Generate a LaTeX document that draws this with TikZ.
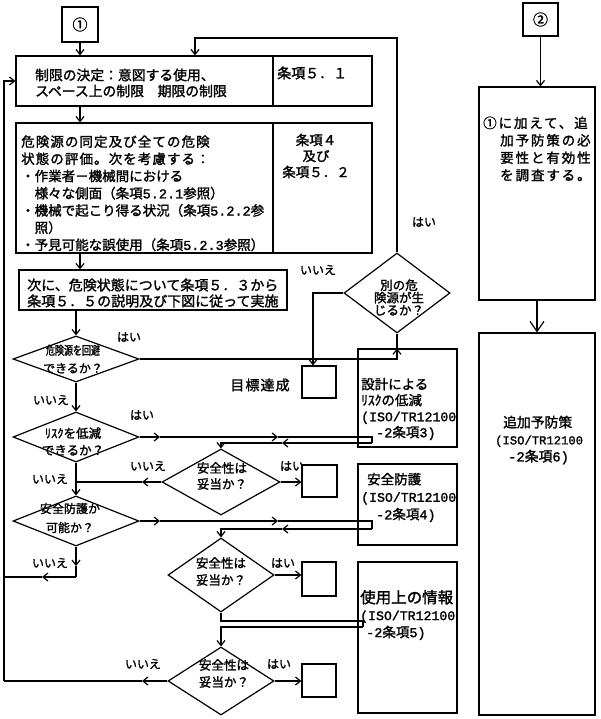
\documentclass[tikz,border=0pt]{standalone}
\usepackage{graphicx}
\usepackage{fontspec}
\setmainfont{Noto Sans CJK JP}[FakeBold=1.6]
\newfontfamily\mo{Liberation Mono}[FakeBold=1.6]
\newfontfamily\jpwa{Noto Sans CJK JP}[LetterSpace=8,FakeBold=1.6]
\newfontfamily\jpwb{Noto Sans CJK JP}[LetterSpace=14,FakeBold=1.6]
\usetikzlibrary{arrows.meta,shapes.geometric}
\tikzset{
  bx/.style={draw, line width=1.2pt, inner sep=0pt, rectangle},
  dm/.style={draw, line width=1.2pt, inner sep=0pt, diamond},
  tx/.style={inner sep=0pt, align=left, anchor=west},
  tc/.style={inner sep=0pt, align=center},
  lb/.style={inner sep=0pt, font=\fontsize{12}{12}\selectfont},
  ln/.style={line width=1.2pt},
  ar/.style={line width=1.2pt, -{Straight Barb[length=5pt,width=8pt]}},
  bigar/.style={line width=1.2pt, -{Straight Barb[length=10pt,width=14pt]}}
}
\begin{document}
\begin{tikzpicture}[x=1pt,y=-1pt]
\useasboundingbox (0,0) rectangle (600,719);
% ---------- boxes ----------
\node[bx, minimum width=36, minimum height=35, font=\fontsize{15}{15}\selectfont] (n1) at (80,24.5) {①};
\node[bx, minimum width=257, minimum height=50] (b1l) at (144.5,81) {};
\node[bx, minimum width=99, minimum height=50] (b1r) at (322.5,81) {};
\node[bx, minimum width=257, minimum height=130] (b2l) at (144.5,188) {};
\node[bx, minimum width=99, minimum height=130] (b2r) at (322.5,188) {};
\node[bx, minimum width=268, minimum height=40] (b3) at (153,290) {};
\node[bx, minimum width=99, minimum height=98] (bD) at (407.5,398) {};
\node[bx, minimum width=99, minimum height=81] (bS) at (407.5,504.5) {};
\node[bx, minimum width=99, minimum height=151] (bU) at (407.5,637.5) {};
\node[bx, minimum width=34, minimum height=32] (sb1) at (319,382) {};
\node[bx, minimum width=35, minimum height=32] (sb2) at (319.5,481) {};
\node[bx, minimum width=34, minimum height=34] (sb3) at (319,579) {};
\node[bx, minimum width=34, minimum height=33] (sb4) at (319,680.5) {};
\node[bx, minimum width=35, minimum height=33, font=\fontsize{15}{15}\selectfont] (n2) at (540.5,19.5) {②};
\node[bx, minimum width=116, minimum height=213] (r1) at (537,193.5) {};
\node[bx, minimum width=116, minimum height=382] (r2) at (537,524) {};
% ---------- diamonds ----------
\node[dm, minimum width=126, minimum height=46] (d1) at (76,359) {};
\node[dm, minimum width=126, minimum height=50] (d2) at (76,437) {};
\node[dm, minimum width=118, minimum height=66] (d3) at (221,482) {};
\node[dm, minimum width=126, minimum height=50] (d4) at (76,521) {};
\node[dm, minimum width=106, minimum height=74] (d5) at (221,575) {};
\node[dm, minimum width=106, minimum height=68] (d6) at (221,681) {};
\node[dm, minimum width=106, minimum height=80] (dA) at (397,293) {};
% ---------- texts ----------
\node[tx, font=\fontsize{13.8}{16}\selectfont] (b1t) at (35,83) {制限の決定：意図する使用、\\スペース上の制限　期限の制限};
\node[tx, font=\fontsize{14}{16}\selectfont] (b1rt) at (277,73) {条項５．１};
\node[tx, font=\fontsize{13.5}{17.2}\selectfont] (b2t) at (21,193.3) {{\jpwa 危険源の同定及び全ての危険}\\{\jpwa 状態の評価。次を考慮する：}\\・作業者－機械間における\\　様々な側面（条項{\mo 5.2.1}参照）\\・機械で起こり得る状況（条項{\mo 5.2.2}参\\　照）\\・予見可能な誤使用（条項{\mo 5.2.3}参照）};
\node[tc, font=\fontsize{13.5}{16}\selectfont] (b2rt) at (316,156) {条項４\\及び\\条項５．２};
\node[tx, font=\fontsize{14}{16}\selectfont] (b3t) at (27,293) {次に、危険状態について条項５．３から\\条項５．５の説明及び下図に従って実施};
\node[tc, font=\fontsize{12}{18}\selectfont] (d1t) at (73,359) {\scalebox{0.75}[1]{危険源を回避}\\できるか？};
\node[tc, font=\fontsize{12.5}{17}\selectfont] (d2t) at (73,441.5) {ﾘｽｸを低減\\できるか？};
\node[tc, font=\fontsize{12.5}{16}\selectfont] (d3t) at (222,476) {安全性は\\妥当か？};
\node[tc, font=\fontsize{12}{19}\selectfont] (d4t) at (70,518) {安全防護か\\可能か？};
\node[tc, font=\fontsize{12.5}{17}\selectfont] (d5t) at (221,571.5) {安全性は\\妥当か？};
\node[tc, font=\fontsize{12.5}{17}\selectfont] (d6t) at (224,673.5) {安全性は\\妥当か？};
\node[tc, font=\fontsize{12.5}{12.5}\selectfont] (dAt) at (399,297.5) {別の危\\険源が生\\じるか？};
\node[font=\jpwa\fontsize{14}{14}\selectfont, inner sep=0pt] (goal) at (260,385) {目標達成};
\node[tx, font=\fontsize{13.5}{16}\selectfont] (bDt) at (361,409) {設計による\\ﾘｽｸの低減\\{\mo\fontsize{13.2}{16}\selectfont (ISO/TR12100}\\\hspace*{15pt}{\mo -2}条項{\mo 3)}};
\node[tx, font=\fontsize{13.5}{17.5}\selectfont] (bSt) at (361,497.5) {\hspace*{6pt}安全防護\\{\mo\fontsize{13.2}{17.5}\selectfont (ISO/TR12100}\\\hspace*{15pt}{\mo -2}条項{\mo 4)}};
\node[tx, font=\fontsize{13.5}{17}\selectfont] (bUt) at (360,615) {{\fontsize{15.5}{17}\selectfont 使用上の情報}\\{\mo\fontsize{13.2}{17}\selectfont (ISO/TR12100}\\\hspace*{6pt}{\mo -2}条項{\mo 5)}};
\node[tx, font=\jpwb\fontsize{13.5}{17.4}\selectfont] (r1t) at (483,149) {①に加えて、追\\\hspace*{17pt}加予防策の必\\\hspace*{17pt}要性と有効性\\\hspace*{17pt}を調査する。};
\node[tx, font=\fontsize{13.8}{17}\selectfont] (r2t) at (495,440) {\hspace*{8pt}追加予防策\\{\mo\fontsize{12.2}{17}\selectfont (ISO/TR12100}\\\hspace*{13pt}{\mo -2}条項{\mo 6)}};
% ---------- labels ----------
\node[lb] (l1) at (129,337) {はい};
\node[lb] (l2) at (51,400) {いいえ};
\node[lb] (l3) at (142,415) {はい};
\node[lb] (l4) at (148,466) {いいえ};
\node[lb] (l5) at (292,466) {はい};
\node[lb] (l6) at (50,479) {いいえ};
\node[lb] (l7) at (50,563) {いいえ};
\node[lb] (l8) at (283,563) {はい};
\node[lb] (l9) at (143,664) {いいえ};
\node[lb] (l10) at (279,664) {はい};
\node[lb] (l11) at (318,270) {いいえ};
\node[lb] (l12) at (424,222) {はい};
% ---------- helper coordinates ----------
\coordinate (tl) at (195,38);
\coordinate (g1) at (313,0);
\coordinate (a1) at (160,0);
\coordinate (a2) at (278,0);
\coordinate (a3) at (282,0);
\coordinate (a4) at (142,0);
\coordinate (a5) at (42,0);
\coordinate (lx) at (4,0);
\coordinate (r2c) at (372,443);
\coordinate (r4c) at (372,529);
\coordinate (r5a) at (363,621);
\coordinate (r5b) at (363,627);
\coordinate (n4a) at (76,566);
\coordinate (n4b) at (76,577);
% ---------- connectors ----------
\draw[ar] (n1.south) -- (n1.south |- b1l.north);
\draw[ar] (dA.north) |- (tl) -- (tl |- b1l.north);
\draw[ar] (b1l.south -| n1) -- (b2l.north -| n1);
\draw[ar] (b2l.south -| n1) -- (b3.north -| n1);
\draw[ar] (b3.south -| d1) -- (d1.north);
\draw[ar] (d1.south) -- (d2.north);
\draw[ar] (d2.south) -- (d4.north);
% d1 yes
\draw[ar] (d1.east) -| (dA.south |- bD.north);
\draw[ln] (dA.south |- bD.north) -- (dA.south);
% dA no
\draw[ar] (dA.west) -| (g1 |- sb1.north);
% d2 yes
\draw[ar] (d2.east) -- (a1 |- d2.east);
\draw[ar] (a1 |- d2.east) -- (a2 |- d2.east);
\draw[ln] (a2 |- d2.east) -| (r2c);
\draw[ar] (r2c) -- (a3 |- r2c);
\draw[ar] (a3 |- r2c) -| (d3.north);
% d3
\draw[ar] (d3.east) -- (sb2.west |- d3.east);
\draw[ar] (d3.west) -- (a4 |- d3.west);
\draw[ln] (a4 |- d3.west) -- (d2.south |- d3.west);
% d4 yes
\draw[ar] (d4.east) -- (a1 |- d4.east);
\draw[ar] (a1 |- d4.east) -- (a2 |- d4.east);
\draw[ln] (a2 |- d4.east) -| (r4c);
\draw[ar] (r4c) -- (a3 |- r4c);
\draw[ar] (a3 |- r4c) -| (d5.north);
% d4 no
\draw[ar] (d4.south) -- (n4a);
\draw[ln] (n4a) -- (n4b);
\draw[ar] (n4b) -- (a5 |- n4b);
\draw[ln] (a5 |- n4b) -- (lx |- n4b);
% d5
\draw[ar] (d5.east) -- (sb3.west |- d5.east);
\draw[ln] (d5.south) |- (r5a) -- (r5b);
\draw[ar] (r5b) -| (d6.north);
% d6
\draw[ar] (d6.east) -- (sb4.west |- d6.east);
\draw[ar] (d6.west) -- (a4 |- d6.west);
\draw[ln] (a4 |- d6.west) -- (lx |- d6.west);
\draw[ar] (lx |- d6.west) |- (b1l.west);
% right column
\draw[ar] (n2.south) -- (n2.south |- r1.north);
\draw[bigar] (r1.south) -- (r2.north);
\end{tikzpicture}
\end{document}
